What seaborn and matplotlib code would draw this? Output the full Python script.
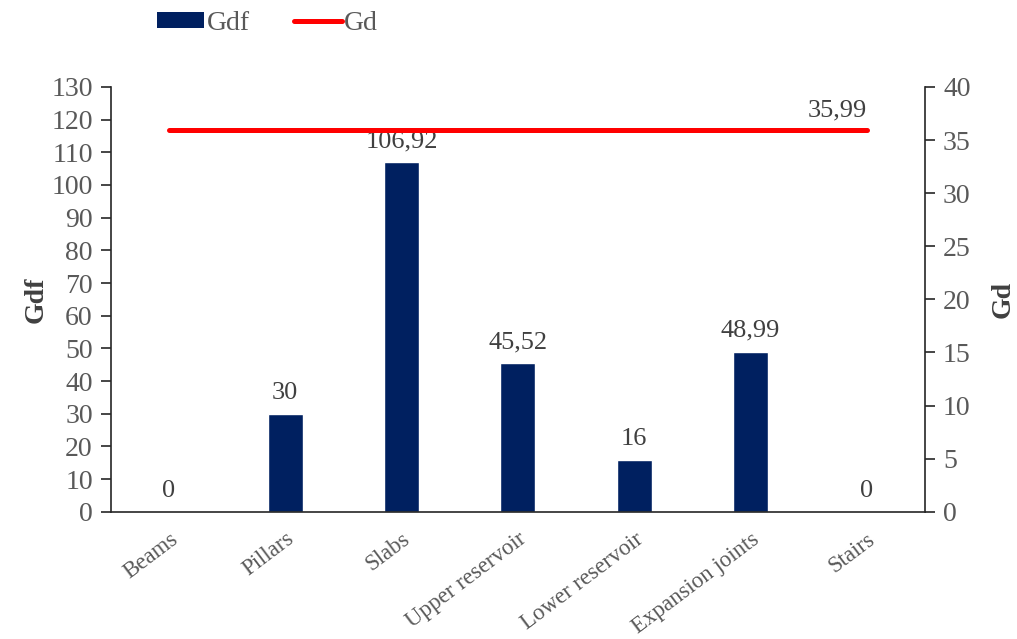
import matplotlib
matplotlib.use("Agg")
import matplotlib.pyplot as plt
import seaborn as sns
import pandas as pd
from matplotlib.lines import Line2D
from matplotlib.patches import Patch

# ------------------------------
# Data
# ------------------------------
categories = ["Beams", "Pillars", "Slabs", "Upper reservoir",
              "Lower reservoir", "Expansion joints", "Stairs"]
gdf_values = [0, 30, 106.92, 45.52, 16, 48.99, 0]
gd_values = [35.99, 35.99, 35.99, 35.99, 35.99, 35.99, 35.99]

df = pd.DataFrame({"Element": categories, "Gdf": gdf_values, "Gd": gd_values})

# ------------------------------
# Style
# ------------------------------
sns.set_style("white")
plt.rcParams["font.family"] = ["Liberation Serif", "DejaVu Serif"]
txt = "#595959"
navy = "#002060"
red = "#FF0000"

fig = plt.figure(figsize=(10.17, 6.39), dpi=100)
ax = fig.add_axes([0.109, 0.199, 0.8005, 0.665])

sns.barplot(data=df, x="Element", y="Gdf", color=navy, width=0.3,
            saturation=1, ax=ax)
ax.set_xlim(-0.5, len(categories) - 0.5)
ax.set_ylim(0, 130)
ax.set_yticks(range(0, 131, 10))

def fmt(v):
    return f"{v:g}".replace(".", ",")

for i, v in enumerate(gdf_values):
    ax.text(i, v + 3, fmt(v), ha="center", va="bottom", fontsize=19, color="#404040")

ax2 = ax.twinx()
sns.lineplot(x=list(range(len(categories))), y=gd_values, color=red,
             linewidth=3.6, ax=ax2, solid_capstyle="round")
ax2.set_ylim(0, 40)
ax2.set_yticks(range(0, 41, 5))
ax2.text(len(categories) - 1, gd_values[-1] + 0.8, fmt(gd_values[-1]),
         ha="right", va="bottom", fontsize=19, color="#404040")

# axes cosmetics
for a in (ax, ax2):
    for s in a.spines.values():
        s.set_visible(False)
ax.spines["left"].set_visible(True)
ax.spines["bottom"].set_visible(True)
ax2.spines["right"].set_visible(True)
for s in (ax.spines["left"], ax.spines["bottom"], ax2.spines["right"]):
    s.set_color("#262626")
    s.set_linewidth(1.2)

ax.set_xticks(range(len(categories)))
ax.set_xticklabels(categories, rotation=37, ha="right", rotation_mode="anchor")
ax.set_xticks([i - 0.5 for i in range(len(categories) + 1)], minor=True)
ax.tick_params(axis="x", which="major", length=0, pad=12, labelsize=16.5, labelcolor=txt)
ax.tick_params(axis="x", which="minor", length=7, width=1.2, color="#262626", direction="out")
ax.tick_params(axis="y", length=7, width=1.2, color="#262626", direction="out",
               labelsize=20, labelcolor=txt, pad=6)
ax2.tick_params(axis="y", length=7, width=1.2, color="#262626", direction="out",
                labelsize=20, labelcolor=txt, pad=6)

ax.set_xlabel("")
ax.set_ylabel("Gdf", fontsize=20, fontweight="bold", color="#404040", labelpad=2)
ax2.set_ylabel("Gd", fontsize=20, fontweight="bold", color="#404040", labelpad=14)
ax2.yaxis.set_label_position("right")
ax.grid(False)
ax2.grid(False)

handles = [Patch(facecolor=navy, edgecolor="none"),
           Line2D([0], [0], color=red, linewidth=3.6)]
fig.legend(handles, ["Gdf", "Gd"], loc="center", bbox_to_anchor=(0.263, 0.963),
           ncol=2, frameon=False, fontsize=20, labelcolor=txt,
           handlelength=1.7, handleheight=0.5, columnspacing=1.6, handletextpad=0.1)

fig.savefig("out.png", dpi=100)
